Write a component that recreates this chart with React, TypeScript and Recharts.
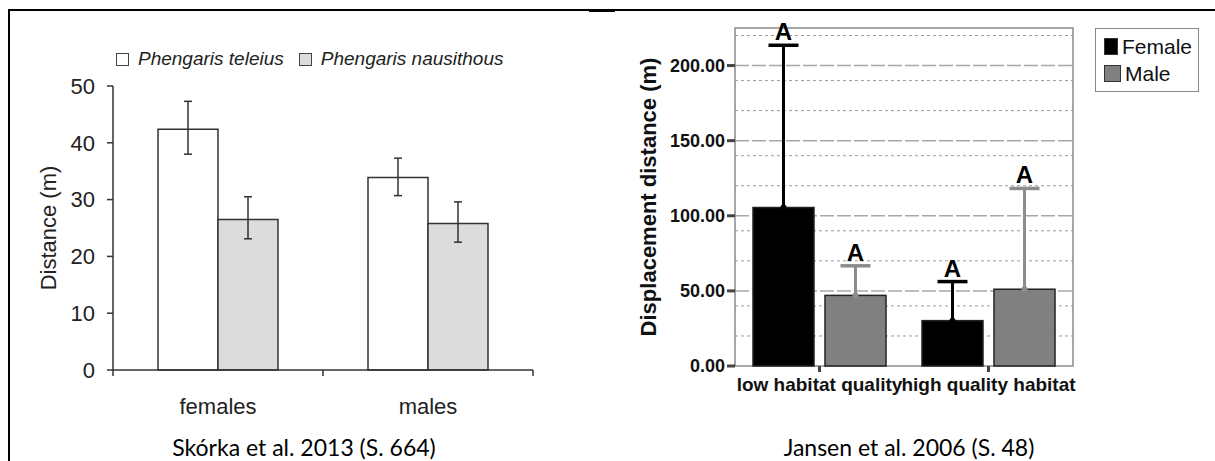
import React from 'react';
import { Bar, BarChart, CartesianGrid, ErrorBar, Legend, ReferenceArea, XAxis, YAxis } from 'recharts';

// left panel: Skórka et al. 2013
const leftCategories = ['females', 'males'];
const leftSeries = ['Phengaris teleius', 'Phengaris nausithous'];
const teleiusMean = [42.4, 33.9];
const teleiusLow = [38.0, 30.7];
const teleiusHigh = [47.3, 37.3];
const nausithousMean = [26.5, 25.8];
const nausithousLow = [23.1, 22.5];
const nausithousHigh = [30.5, 29.6];
const leftTicks = [0, 10, 20, 30, 40, 50];

// right panel: Jansen et al. 2006
const rightCategories = ['low habitat quality', 'high quality habitat'];
const rightSeries = ['Female', 'Male'];
const femaleMean = [105.5, 30.2];
const femaleUpper = [213.5, 56.2];
const maleMean = [47.0, 51.1];
const maleUpper = [66.7, 118.2];
const femaleLetters = ['A', 'A'];
const maleLetters = ['A', 'A'];
const rightTicks = [0, 50, 100, 150, 200];
const rightMinorGrid = [10, 20, 30, 40, 60, 70, 80, 90, 110, 120, 130, 140, 160, 170, 180, 190, 210, 220];

const SANS = '"Liberation Sans", Arial, sans-serif';
const CAPTION = 'Lato, "Open Sans", sans-serif';
const LEFT_PLOT_W = 420;

const leftData = leftCategories.map((name, i) => ({
  name,
  teleius: teleiusMean[i],
  teleiusErr: [teleiusMean[i] - teleiusLow[i], teleiusHigh[i] - teleiusMean[i]],
  nausithous: nausithousMean[i],
  nausithousErr: [nausithousMean[i] - nausithousLow[i], nausithousHigh[i] - nausithousMean[i]],
}));

const rightData = rightCategories.map((name, i) => ({
  name,
  female: femaleMean[i],
  femaleUpper: femaleUpper[i],
  femaleLetter: femaleLetters[i],
  male: maleMean[i],
  maleUpper: maleUpper[i],
  maleLetter: maleLetters[i],
}));

function LeftXTick(props: any) {
  const { x, y, payload, index, visibleTicksCount } = props;
  const n = visibleTicksCount || leftCategories.length;
  const band = LEFT_PLOT_W / n;
  return (
    <g>
      <line x1={x - band / 2} x2={x - band / 2} y1={y} y2={y + 6} stroke="#333" strokeWidth={1.5} />
      {index === n - 1 && <line x1={x + band / 2} x2={x + band / 2} y1={y} y2={y + 6} stroke="#333" strokeWidth={1.5} />}
      <text x={x} y={y + 44} textAnchor="middle" fontSize={22} fill="#222" fontFamily={SANS}>
        {payload.value}
      </text>
    </g>
  );
}

function LeftLegend({ payload }: any) {
  return (
    <div style={{ display: 'flex', alignItems: 'center', fontFamily: SANS, fontStyle: 'italic', fontSize: 19, color: '#222', whiteSpace: 'nowrap' }}>
      {(payload || []).map((p: any, i: number) => (
        <span key={p.value} style={{ display: 'flex', alignItems: 'center', marginRight: i === 0 ? 15 : 0 }}>
          <span style={{ width: 11, height: 11, border: '1px solid #444', background: p.payload?.fill ?? p.color, display: 'inline-block', marginRight: 9 }} />
          {p.value}
        </span>
      ))}
    </div>
  );
}

function RightLegend({ payload }: any) {
  return (
    <div style={{ border: '1.5px solid #888', padding: '4px 6px 4px 8px', fontFamily: SANS, fontSize: 21, color: '#111', lineHeight: '27px', width: 88 }}>
      {(payload || []).map((p: any) => (
        <div key={p.value} style={{ display: 'flex', alignItems: 'center' }}>
          <span style={{ width: 15, height: 15, border: '1px solid #333', background: p.payload?.fill ?? p.color, display: 'inline-block', marginRight: 4 }} />
          {p.value}
        </div>
      ))}
    </div>
  );
}

function errorShape(upperKey: string, letterKey: string, errColor: string) {
  return (props: any) => {
    const { x, y, width, height, fill, payload, value } = props;
    const v = Array.isArray(value) ? value[1] - value[0] : value;
    const perUnit = height / v;
    const cx = x + width / 2;
    const top = y - (payload[upperKey] - v) * perUnit;
    return (
      <g>
        <rect x={x} y={y} width={width} height={height} fill={fill} stroke="#222" strokeWidth={1.5} />
        <line x1={cx} x2={cx} y1={y} y2={top} stroke={errColor} strokeWidth={3} />
        <line x1={cx - 15} x2={cx + 15} y1={top} y2={top} stroke={errColor} strokeWidth={3.5} />
        <circle cx={cx} cy={y} r={3} fill={errColor} />
        <text x={cx} y={top - 5} textAnchor="middle" fontSize={24} fontWeight={700} fill="#000" fontFamily={SANS}>
          {payload[letterKey]}
        </text>
      </g>
    );
  };
}

function LeftChart() {
  return (
    <BarChart width={600} height={461} data={leftData} margin={{ top: 86, right: 67, bottom: 0, left: 0 }} barGap={0} barSize={60}>
      <XAxis
        dataKey="name"
        height={91}
        interval={0}
        tickSize={0}
        tickMargin={0}
        tickLine={false}
        axisLine={{ stroke: '#333', strokeWidth: 1.5 }}
        tick={LeftXTick}
      />
      <YAxis
        width={113}
        domain={[0, 50]}
        ticks={leftTicks}
        tickSize={6}
        tickMargin={12}
        axisLine={{ stroke: '#333', strokeWidth: 1.5 }}
        tickLine={{ stroke: '#333', strokeWidth: 1.5 }}
        tick={{ fontSize: 22, fill: '#222', fontFamily: SANS }}
        label={{
          content: ({ viewBox }: any) => {
            const cy = viewBox.y + viewBox.height / 2;
            return (
              <text x={56} y={cy} transform={`rotate(-90 56 ${cy})`} textAnchor="middle" fontSize={22} fill="#222" fontFamily={SANS}>
                Distance (m)
              </text>
            );
          },
        }}
      />
      <Legend
        layout="horizontal"
        align="center"
        verticalAlign="middle"
        content={LeftLegend}
        itemSorter={(item: any) => leftSeries.indexOf(item.value)}
        wrapperStyle={{ left: 116, top: 48, width: 'auto' }}
      />
      <Bar dataKey="teleius" name={leftSeries[0]} fill="#ffffff" stroke="#333" strokeWidth={1.5} isAnimationActive={false}>
        <ErrorBar dataKey="teleiusErr" width={4} stroke="#333" strokeWidth={1.5} direction="y" />
      </Bar>
      <Bar dataKey="nausithous" name={leftSeries[1]} fill="#dcdcdc" stroke="#333" strokeWidth={1.5} isAnimationActive={false}>
        <ErrorBar dataKey="nausithousErr" width={4} stroke="#333" strokeWidth={1.5} direction="y" />
      </Bar>
    </BarChart>
  );
}

function RightChart() {
  return (
    <BarChart width={615} height={461} data={rightData} margin={{ top: 28, right: 142, bottom: 0, left: 0 }} barGap={11} barSize={61}>
      <CartesianGrid vertical={false} horizontalValues={rightMinorGrid} stroke="#9a9a9a" strokeDasharray="3 3" />
      <CartesianGrid vertical={false} horizontalValues={rightTicks.slice(1)} stroke="#a8a8a8" strokeDasharray="14 3" strokeWidth={1.5} />
      <ReferenceArea y1={0} y2={225} fill="none" stroke="#8a8a8a" strokeWidth={1.5} ifOverflow="visible" />
      <XAxis
        dataKey="name"
        height={95}
        interval={0}
        tickSize={6}
        tickMargin={6}
        axisLine={false}
        tickLine={{ stroke: '#444', strokeWidth: 3 }}
        tick={{ fontSize: 19, fontWeight: 700, fill: '#111', fontFamily: SANS }}
      />
      <YAxis
        width={135}
        domain={[0, 225]}
        ticks={rightTicks}
        tickFormatter={(v: number) => v.toFixed(2)}
        tickSize={8}
        tickMargin={2}
        axisLine={false}
        tickLine={{ stroke: '#444', strokeWidth: 3 }}
        tick={{ fontSize: 18, fontWeight: 700, fill: '#111', fontFamily: SANS }}
        label={{
          content: ({ viewBox }: any) => {
            const cy = viewBox.y + viewBox.height / 2;
            return (
              <text x={56} y={cy} transform={`rotate(-90 56 ${cy})`} textAnchor="middle" fontSize={22} fontWeight={700} fill="#111" fontFamily={SANS}>
                Displacement distance (m)
              </text>
            );
          },
        }}
      />
      <Legend
        layout="vertical"
        align="center"
        verticalAlign="middle"
        content={RightLegend}
        itemSorter={(item: any) => rightSeries.indexOf(item.value)}
        wrapperStyle={{ left: 495, top: 28, width: 'auto' }}
      />
      <Bar dataKey="female" name={rightSeries[0]} fill="#000000" isAnimationActive={false} shape={errorShape('femaleUpper', 'femaleLetter', '#000')} />
      <Bar dataKey="male" name={rightSeries[1]} fill="#808080" isAnimationActive={false} shape={errorShape('maleUpper', 'maleLetter', '#8c8c8c')} />
    </BarChart>
  );
}

export default function App() {
  return (
    <div style={{ position: 'absolute', left: 0, top: 0, width: 1215, height: 461, background: '#fff', overflow: 'hidden' }}>
      <div style={{ position: 'absolute', left: 8, top: 9, width: 1207, height: 452, borderTop: '2px solid #000', borderLeft: '2px solid #000', boxSizing: 'border-box' }} />
      <div style={{ position: 'absolute', left: 589, top: 9, width: 26, height: 3, background: '#000' }} />
      <div style={{ position: 'absolute', left: 0, top: 0 }}>
        <LeftChart />
      </div>
      <div style={{ position: 'absolute', left: 600, top: 0 }}>
        <RightChart />
      </div>
      <div style={{ position: 'absolute', left: 8, top: 436, width: 592, textAlign: 'center', fontFamily: CAPTION, fontSize: 23, lineHeight: '22px', color: '#000' }}>
        Skórka et al. 2013 (S. 664)
      </div>
      <div style={{ position: 'absolute', left: 608, top: 436, width: 602, textAlign: 'center', fontFamily: CAPTION, fontSize: 23, lineHeight: '22px', color: '#000' }}>
        Jansen et al. 2006 (S. 48)
      </div>
    </div>
  );
}
